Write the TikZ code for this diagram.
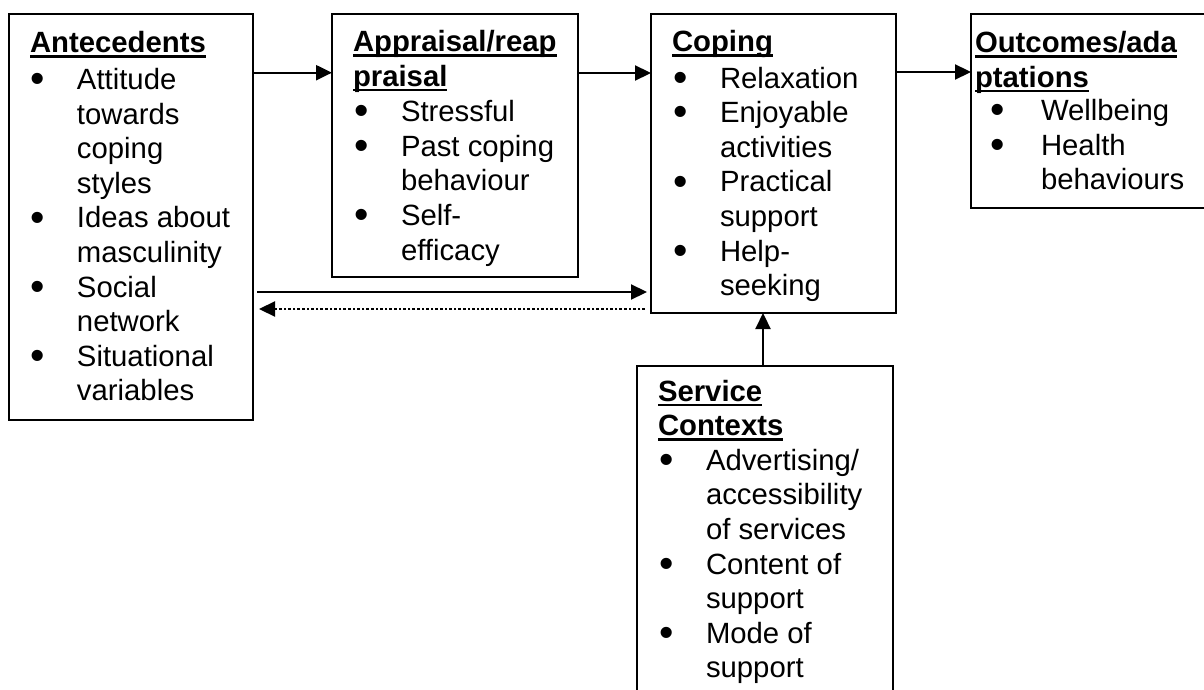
\documentclass[tikz,border=0pt]{standalone}
\usepackage{fontspec}
\usepackage{graphicx}
\setmainfont{Liberation Sans}
\usetikzlibrary{arrows.meta}

% bold heading with a heavy underline
\newcommand\hd[1]{\setbox0\hbox{\bfseries #1}\rlap{\rule[-5.2pt]{\wd0}{2.6pt}}\box0}
% list bullet
\newcommand\bul{\raisebox{-3.2pt}{\scalebox{1.4}{\textbullet}}}

\tikzset{
  box/.style={draw, line width=2pt, inner sep=0pt, outer sep=0pt, anchor=north west},
  txt/.style={inner sep=0pt, outer sep=0pt, anchor=base west,
              font=\fontsize{29.3pt}{34.6pt}\selectfont},
  arr/.style={line width=2.2pt, -{Triangle[length=16pt,width=15pt]}},
  dotarr/.style={arr, dash pattern=on 2.6pt off 2pt}
}

\begin{document}
\begin{tikzpicture}[x=1pt, y=-1pt]
\useasboundingbox (0,0) rectangle (1204,690);
\fill[white] (0,0) rectangle (1204,690);
\clip (0,0) rectangle (1204,690);

% boxes
\node[box, minimum width=244pt, minimum height=406pt] (ant) at (9,14) {};
\node[box, minimum width=246pt, minimum height=263pt] (app) at (332,14) {};
\node[box, minimum width=245pt, minimum height=299pt] (cop) at (651,14) {};
\node[box, minimum width=290pt, minimum height=194pt] (out) at (971,14) {};
\node[box, minimum width=256pt, minimum height=400pt] (svc) at (637,366) {};

% box texts
\node[txt] (antT) at (30,52.5) {\begin{tabular}[t]{@{\hspace{1pt}}p{46pt}@{}l@{}}
\multicolumn{2}{@{}l@{}}{\hd{Antecedents}}\\[2.5pt]
\bul & Attitude\\
     & towards\\
     & coping\\
     & styles\\
\bul & Ideas about\\
     & masculinity\\
\bul & Social\\
     & network\\
\bul & Situational\\
     & variables
\end{tabular}};

\node[txt] (appT) at (353,51.5) {\begin{tabular}[t]{@{\hspace{1pt}}p{47pt}@{}l@{}}
\multicolumn{2}{@{}l@{}}{\hd{Appraisal/reap}}\\
\multicolumn{2}{@{}l@{}}{\hd{praisal}}\\[1pt]
\bul & Stressful\\
\bul & Past coping\\
     & behaviour\\
\bul & Self-\\
     & efficacy
\end{tabular}};

\node[txt] (copT) at (672,51.5) {\begin{tabular}[t]{@{\hspace{1pt}}p{47pt}@{}l@{}}
\multicolumn{2}{@{}l@{}}{\hd{Coping}}\\[2pt]
\bul & Relaxation\\
\bul & Enjoyable\\
     & activities\\
\bul & Practical\\
     & support\\
\bul & Help-\\
     & seeking
\end{tabular}};

\node[txt] (outT) at (975,52.5) {\begin{tabular}[t]{@{\hspace{15pt}}p{51pt}@{}l@{}}
\multicolumn{2}{@{}l@{}}{\hd{Outcomes/ada}}\\
\multicolumn{2}{@{}l@{}}{\hd{ptations}}\\[-1pt]
\bul & Wellbeing\\
\bul & Health\\
     & behaviours
\end{tabular}};

\node[txt] (svcT) at (658,401) {\begin{tabular}[t]{@{\hspace{1pt}}p{47pt}@{}l@{}}
\multicolumn{2}{@{}l@{}}{\hd{Service}}\\
\multicolumn{2}{@{}l@{}}{\hd{Contexts}}\\
\bul & Advertising/\\
     & accessibility\\
     & of services\\
\bul & Content of\\
     & support\\
\bul & Mode of\\
     & support
\end{tabular}};

% connectors
\draw[arr] ([yshift=-58.7pt]ant.north east) -- ([yshift=-58.7pt]app.north west);
\draw[arr] ([yshift=-59pt]app.north east) -- ([yshift=-59pt]cop.north west);
\draw[arr] ([yshift=-58pt]cop.north east) -- ([yshift=-58pt]out.north west);
\draw[arr] ([shift={(4,278)}]ant.north east) -- ([shift={(-4,278)}]cop.north west);
\draw[dotarr] ([shift={(-6,295)}]cop.north west) -- ([shift={(6,295)}]ant.north east);
\draw[arr] ([xshift=-2pt]svc.north) -- ([xshift=-2pt]svc.north |- cop.south);
\end{tikzpicture}
\end{document}
